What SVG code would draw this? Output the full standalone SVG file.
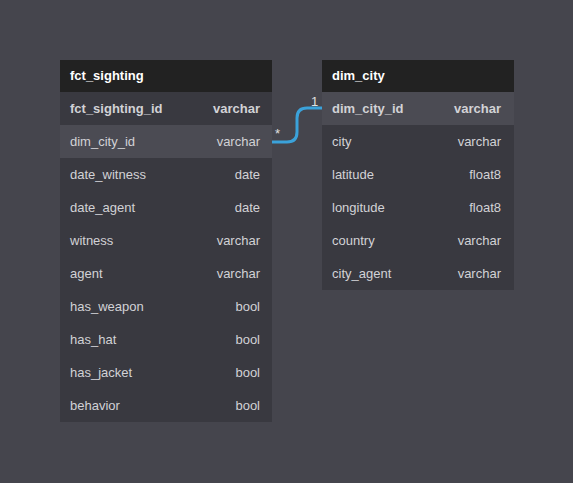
<svg xmlns="http://www.w3.org/2000/svg" width="573" height="483" viewBox="0 0 573 483">
<style>
.bg{fill:#45454d}
.hdr{fill:#222222}
.row{fill:#393940}
.hl{fill:#4b4b53}
.title{font-family:"Liberation Sans",Arial,sans-serif;font-size:13px;font-weight:bold;fill:#ffffff}
.t{font-family:"Liberation Sans",Arial,sans-serif;font-size:13px;fill:#d2d2d6}
.pk{font-weight:bold}
.ty{text-anchor:end}
.conn{fill:none;stroke:#3ba2da;stroke-width:3}
.card{font-family:"Liberation Sans",Arial,sans-serif;font-size:13px;fill:#e0e0e0}
</style>
<rect class="bg" x="0" y="0" width="573" height="483"/>
<g id="connectors">
<path class="conn" d="M272,142 H287 Q297,142 297,132 V118 Q297,108 307,108 H322"/>
<text class="card" x="275" y="138" font-size="12">*</text>
<text class="card" x="311" y="106">1</text>
</g>
<g id="fct_sighting">
<rect class="hdr" x="60" y="60" width="212" height="32"/>
<text class="title" x="70" y="80">fct_sighting</text>
<rect class="row" x="60" y="92" width="212" height="330"/>
<rect class="hl" x="60" y="125" width="212" height="33"/>
<text class="t pk" x="70" y="113">fct_sighting_id</text><text class="t pk ty" x="260" y="113">varchar</text>
<text class="t" x="70" y="146">dim_city_id</text><text class="t ty" x="260" y="146">varchar</text>
<text class="t" x="70" y="179">date_witness</text><text class="t ty" x="260" y="179">date</text>
<text class="t" x="70" y="212">date_agent</text><text class="t ty" x="260" y="212">date</text>
<text class="t" x="70" y="245">witness</text><text class="t ty" x="260" y="245">varchar</text>
<text class="t" x="70" y="278">agent</text><text class="t ty" x="260" y="278">varchar</text>
<text class="t" x="70" y="311">has_weapon</text><text class="t ty" x="260" y="311">bool</text>
<text class="t" x="70" y="344">has_hat</text><text class="t ty" x="260" y="344">bool</text>
<text class="t" x="70" y="377">has_jacket</text><text class="t ty" x="260" y="377">bool</text>
<text class="t" x="70" y="410">behavior</text><text class="t ty" x="260" y="410">bool</text>
</g>
<g id="dim_city">
<rect class="hdr" x="322" y="60" width="192" height="32"/>
<text class="title" x="332" y="80">dim_city</text>
<rect class="row" x="322" y="92" width="192" height="198"/>
<rect class="hl" x="322" y="92" width="192" height="33"/>
<text class="t pk" x="332" y="113">dim_city_id</text><text class="t pk ty" x="501" y="113">varchar</text>
<text class="t" x="332" y="146">city</text><text class="t ty" x="501" y="146">varchar</text>
<text class="t" x="332" y="179">latitude</text><text class="t ty" x="501" y="179">float8</text>
<text class="t" x="332" y="212">longitude</text><text class="t ty" x="501" y="212">float8</text>
<text class="t" x="332" y="245">country</text><text class="t ty" x="501" y="245">varchar</text>
<text class="t" x="332" y="278">city_agent</text><text class="t ty" x="501" y="278">varchar</text>
</g>
</svg>
